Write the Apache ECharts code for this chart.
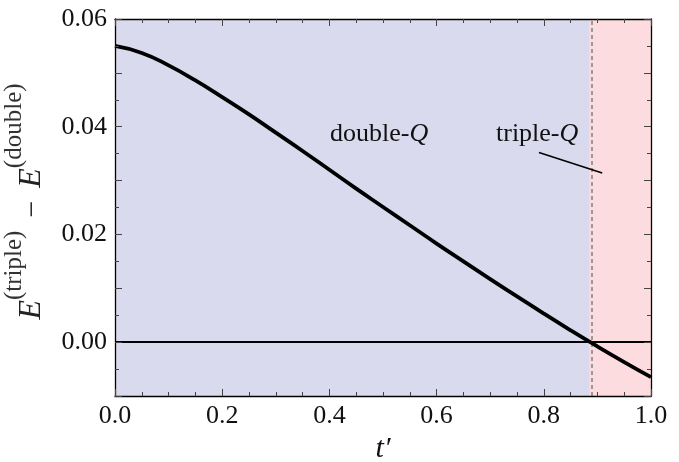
<!DOCTYPE html>
<html>
<head>
<meta charset="utf-8">
<script src="https://cdn.jsdelivr.net/npm/echarts@6/dist/echarts.min.js"></script>
<style>
  html, body { margin: 0; padding: 0; background: #fff; }
  #main { width: 679px; height: 462px; }
</style>
</head>
<body>
<div id="main"></div>
<script>
// t' values and energy difference
var tVals = [0, 0.05, 0.1, 0.15, 0.2, 0.25, 0.3, 0.35, 0.4, 0.45, 0.5,
             0.55, 0.6, 0.65, 0.7, 0.75, 0.8, 0.85, 0.9, 0.95, 1.0];
var dE = [0.0550, 0.0537, 0.0514, 0.0486, 0.0455, 0.0423, 0.0389, 0.0355, 0.0320, 0.0285, 0.0251,
          0.0217, 0.0183, 0.0150, 0.0117, 0.0085, 0.0053, 0.0022, -0.0008, -0.0037, -0.0065];
var tCross = 0.886;           // phase boundary (dashed line)
var xRange = [0, 1];
var yRange = [-0.01, 0.06];
var leader = [[0.791, 0.0352], [0.909, 0.0314]];  // "triple-Q" pointer line

var serif = 'Liberation Serif';
var tickCol = '#444';

var chart = echarts.init(document.getElementById('main'));

function axisBase(extra) {
  var a = {
    z: 10,
    axisLine: { show: true, onZero: false, lineStyle: { color: '#000', width: 1.3 } },
    axisTick: { show: true, inside: true, length: 7, lineStyle: { color: tickCol, width: 1 } },
    minorTick: { show: true, splitNumber: 4, length: 4, lineStyle: { color: tickCol, width: 1 } },
    splitLine: { show: false },
    minorSplitLine: { show: false }
  };
  for (var k in extra) a[k] = extra[k];
  return a;
}

var lineData = tVals.map(function (t, i) { return [t, dE[i]]; });

var option = {
  animation: false,
  grid: { left: 115, right: 28, top: 19, bottom: 66, outerBoundsMode: 'none', containLabel: false },
  xAxis: [
    axisBase({
      type: 'value', position: 'bottom', min: xRange[0], max: xRange[1], interval: 0.2,
      axisLabel: { margin: 7, color: '#111', fontFamily: serif, fontSize: 26,
        formatter: function (v) { return v.toFixed(1); } },
      name: 't′', nameLocation: 'middle', nameGap: 22,
      nameTextStyle: { fontFamily: serif, fontStyle: 'italic', fontWeight: 'normal', fontSize: 30, color: '#111' }
    }),
    axisBase({
      type: 'value', position: 'top', min: xRange[0], max: xRange[1], interval: 0.2,
      axisLabel: { show: false }
    })
  ],
  yAxis: [
    axisBase({
      type: 'value', position: 'left', min: yRange[0], max: yRange[1], interval: 0.01,
      minorTick: { show: true, splitNumber: 2, length: 4, lineStyle: { color: tickCol, width: 1 } },
      axisLabel: { margin: 8, color: '#111', fontFamily: serif, fontSize: 26,
        formatter: function (v) {
          var n = Math.round(v * 100);
          return (n % 2 === 0) ? v.toFixed(2) : '';
        } },
      name: '{e|E}{s|(triple)}{m|−}{e|E}{s|(double)}',
      nameLocation: 'middle', nameGap: 67, nameRotate: 90,
      nameTextStyle: {
        color: '#222', fontWeight: 'normal', padding: [0, 0, 0, 12],
        rich: {
          e: { fontFamily: serif, fontStyle: 'italic', fontWeight: 'normal', fontSize: 32, lineHeight: 46, verticalAlign: 'bottom', color: '#222' },
          s: { fontFamily: serif, fontWeight: 'normal', fontSize: 25, lineHeight: 26, verticalAlign: 'top', color: '#333' },
          m: { fontFamily: serif, fontWeight: 'normal', fontSize: 30, lineHeight: 46, verticalAlign: 'bottom', padding: [0, 13, 0, 13], color: '#222' }
        }
      }
    }),
    axisBase({
      type: 'value', position: 'right', min: yRange[0], max: yRange[1], interval: 0.01,
      minorTick: { show: true, splitNumber: 2, length: 4, lineStyle: { color: tickCol, width: 1 } },
      axisLabel: { show: false }
    })
  ],
  series: [
    {
      // phase backgrounds and reference lines
      type: 'line', data: [], z: 1, silent: true,
      markArea: {
        silent: true,
        data: [
          [{ xAxis: xRange[0], itemStyle: { color: '#dadaee' } }, { xAxis: tCross }],
          [{ xAxis: tCross, itemStyle: { color: '#fddcdf' } }, { xAxis: xRange[1] }]
        ]
      },
      markLine: {
        silent: true, symbol: 'none', label: { show: false },
        data: [
          { xAxis: tCross, lineStyle: { color: '#888', type: [4, 3], width: 1.6 } },
          { yAxis: 0, lineStyle: { color: '#000', type: 'solid', width: 2 } },
          [{ coord: leader[0], lineStyle: { color: '#000', type: 'solid', width: 1.5 } },
           { coord: leader[1] }]
        ]
      }
    },
    {
      type: 'line', data: lineData, z: 5, smooth: 0.5,
      showSymbol: false, symbol: 'none',
      lineStyle: { color: '#000', width: 3.8 }
    }
  ],
  graphic: [
    {
      type: 'text', left: 330, top: 121, z: 10,
      style: {
        text: '{r|double-}{i|Q}',
        rich: {
          r: { fontFamily: serif, fontSize: 26, fill: '#111' },
          i: { fontFamily: serif, fontStyle: 'italic', fontSize: 26, fill: '#111' }
        }
      }
    },
    {
      type: 'text', left: 496, top: 121, z: 10,
      style: {
        text: '{r|triple-}{i|Q}',
        rich: {
          r: { fontFamily: serif, fontSize: 26, fill: '#111' },
          i: { fontFamily: serif, fontStyle: 'italic', fontSize: 26, fill: '#111' }
        }
      }
    }
  ]
};

chart.setOption(option);
</script>
</body>
</html>
